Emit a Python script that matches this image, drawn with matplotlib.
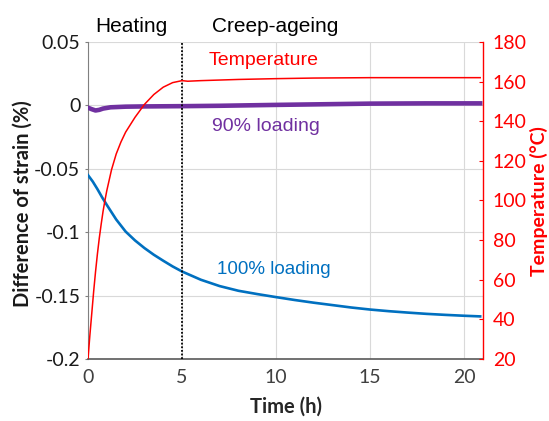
import matplotlib
matplotlib.use("Agg")
import matplotlib.pyplot as plt

# Strain difference (%) vs time (h)
t_100 = [0.0, 0.25, 0.5, 0.75, 1.0, 1.5, 2.0, 2.5, 3.0, 3.5, 4.0, 4.5, 5.0,
         6.0, 7.0, 8.0, 9.0, 10.0, 11.0, 12.0, 13.0, 14.0, 15.0, 16.0, 17.0,
         18.0, 19.0, 20.0, 20.85]
strain_100 = [-0.055, -0.060, -0.066, -0.0725, -0.0785, -0.090, -0.0995,
              -0.1065, -0.1125, -0.1178, -0.1225, -0.127, -0.131, -0.1375,
              -0.1425, -0.1462, -0.1488, -0.1512, -0.1535, -0.1556, -0.1575,
              -0.1594, -0.161, -0.1623, -0.1634, -0.1644, -0.1652, -0.1659,
              -0.1664]

t_90 = [0.0, 0.2, 0.4, 0.6, 0.8, 1.2, 2.0, 3.0, 5.0, 7.0, 10.0, 13.0, 15.0,
        18.0, 20.85]
strain_90 = [-0.0018, -0.0030, -0.0040, -0.0035, -0.0025, -0.0015, -0.0010,
             -0.0008, -0.0006, -0.0003, 0.0004, 0.0010, 0.0014, 0.0016, 0.0016]

# Temperature (°C) vs time (h)
t_temp = [0.0, 0.1, 0.2, 0.3, 0.4, 0.5, 0.6, 0.7, 0.8, 0.9, 1.0, 1.25, 1.5,
          1.75, 2.0, 2.5, 3.0, 3.5, 4.0, 4.5, 5.0, 5.3, 6.0, 8.0, 10.0, 12.0,
          15.0, 18.0, 20.85]
temp = [20, 32, 43, 54, 64, 73, 81, 88, 94.5, 100, 105, 115.5, 123.5, 129.5,
        134.5, 142, 148.5, 153.5, 157.2, 159.5, 160.5, 160.2, 160.5, 161.1,
        161.5, 161.8, 162.0, 162.0, 162.0]

x_ticks = [0, 5, 10, 15, 20]
y_ticks = [0.05, 0, -0.05, -0.1, -0.15, -0.2]
y_ticklabels = ["0.05", "0", "-0.05", "-0.1", "-0.15", "-0.2"]
temp_ticks = [20, 40, 60, 80, 100, 120, 140, 160, 180]
stage_split = 5

BLUE = "#0070C0"
PURPLE = "#7030A0"
RED = "#FF0000"
TICK_FONT = "Lato"
TEXT_FONT = "Liberation Sans"

W, H = 549, 421
fig = plt.figure(figsize=(W / 100, H / 100), dpi=100)
ax = fig.add_axes([88 / W, 1 - 359 / H, (483 - 88) / W, (359 - 42) / H])
ax2 = ax.twinx()

ax.set_xlim(0, 21)
ax.set_ylim(-0.2, 0.05)
ax2.set_ylim(20, 180)

ax.set_xticks(x_ticks)
ax.set_yticks(y_ticks)
ax.set_yticklabels(y_ticklabels)
ax2.set_yticks(temp_ticks)

ax.grid(True, color="#d9d9d9", lw=0.8)
ax.set_axisbelow(True)

ax.axvline(stage_split, color="black", ls=(0, (1, 1)), lw=1.3, zorder=4)

ax.plot(t_100, strain_100, color=BLUE, lw=1.9, zorder=3)
ax.plot(t_90, strain_90, color=PURPLE, lw=3.3, zorder=3)
ax2.plot(t_temp, temp, color=RED, lw=1.1, zorder=3)

ax.spines["top"].set_visible(False)
ax2.spines["top"].set_visible(False)
ax.spines["right"].set_visible(False)
ax.spines["left"].set_color("#808080")
ax.spines["bottom"].set_color("#595959")
ax.spines["bottom"].set_linewidth(1.2)
ax2.spines["left"].set_visible(False)
ax2.spines["bottom"].set_visible(False)
ax2.spines["right"].set_color(RED)
ax2.spines["right"].set_linewidth(1.0)

TICK_SIZE = 14
ax.tick_params(axis="y", direction="out", length=2.5, color="#808080",
               labelsize=TICK_SIZE, pad=3, labelcolor="#1a1a1a")
ax.tick_params(axis="x", length=0, labelsize=TICK_SIZE, pad=7, labelcolor="#404040")
ax2.tick_params(axis="y", direction="in", length=3, color=RED,
                labelsize=TICK_SIZE, labelcolor=RED, pad=7)
for lab in ax.get_xticklabels() + ax.get_yticklabels() + ax2.get_yticklabels():
    lab.set_fontfamily(TICK_FONT)

ax.set_xlabel("Time (h)", fontsize=14.5, fontweight="bold", family=TICK_FONT,
              color="#262626", labelpad=8)
fig.text(23 / W, 1 - 204 / H, "Difference of strain (%)", fontsize=14.5,
         fontweight="bold", family=TICK_FONT, color="#1a1a1a",
         rotation=90, ha="center", va="center")
fig.text(539 / W, 1 - 201 / H, "Temperature (°C)", fontsize=14,
         fontweight="bold", family=TICK_FONT, color=RED,
         rotation=90, ha="center", va="center")

ax.text(2.29, 0.0625, "Heating", fontsize=15, family=TEXT_FONT,
        ha="center", va="center", clip_on=False)
ax.text(9.95, 0.0625, "Creep-ageing", fontsize=15, family=TEXT_FONT,
        ha="center", va="center", clip_on=False)
ax2.text(9.34, 170.5, "Temperature", fontsize=14, family=TEXT_FONT,
         color=RED, ha="center", va="center")
ax.text(9.47, -0.0165, "90% loading", fontsize=14, family=TEXT_FONT,
        color=PURPLE, ha="center", va="center")
ax.text(9.9, -0.1295, "100% loading", fontsize=13.5, family=TEXT_FONT,
        color=BLUE, ha="center", va="center")

fig.savefig("out.png", dpi=100)
